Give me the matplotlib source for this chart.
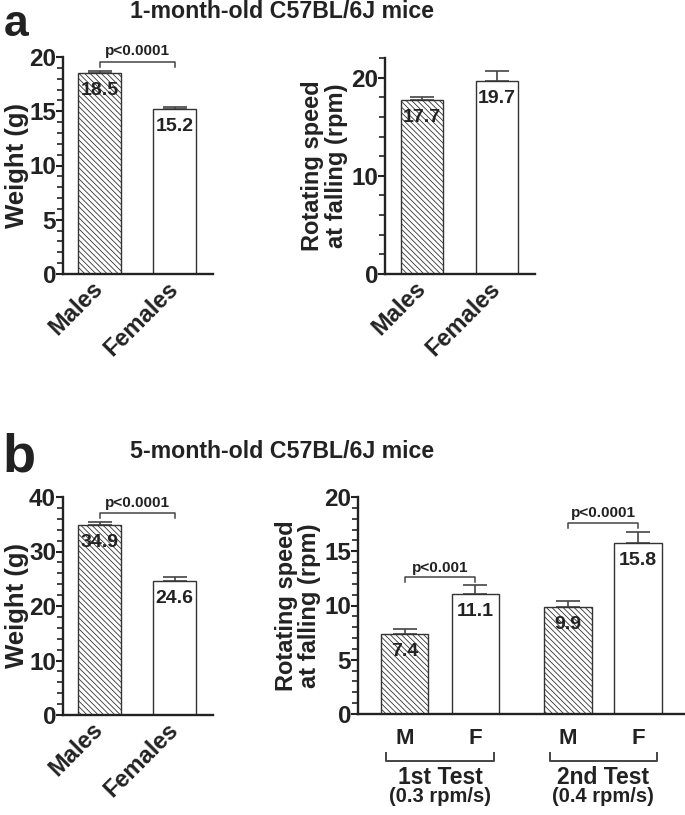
import matplotlib
matplotlib.use('agg')
import matplotlib.pyplot as plt
import numpy as np

plt.rcParams['font.family'] = ['Liberation Sans', 'DejaVu Sans']
plt.rcParams['font.weight'] = 'bold'
plt.rcParams['hatch.color'] = '#666666'
plt.rcParams['hatch.linewidth'] = 0.6

# data
sex_labels = ['Males', 'Females']
weight_1m = [18.5, 15.2]
weight_1m_err = [0.2, 0.2]
speed_1m = [17.7, 19.7]
speed_1m_err = [0.3, 1.0]

weight_5m = [34.9, 24.6]
weight_5m_err = [0.5, 0.7]
speed_5m = [7.4, 11.1, 9.9, 15.8]
speed_5m_err = [0.4, 0.8, 0.5, 1.0]
speed_5m_ticks = ['M', 'F', 'M', 'F']
test_names = ['1st Test', '2nd Test']
test_rates = ['(0.3 rpm/s)', '(0.4 rpm/s)']

W, H = 685, 815
fig = plt.figure(figsize=(W / 100, H / 100), dpi=100)
INK = '#222222'


def px_axes(x0, x1, y0, y1):
    return fig.add_axes([x0 / W, 1 - y1 / H, (x1 - x0) / W, (y1 - y0) / H])


def ftext(x, y, s, **kw):
    fig.text(x / W, 1 - y / H, s, color=INK, fontweight='bold', **kw)


def style(ax, ymax, major, minor):
    ax.set_ylim(0, ymax)
    ax.set_yticks(np.arange(0, ymax + 0.01, major))
    ax.set_yticks(np.arange(0, ymax + 0.01, minor), minor=True)
    for s in ['top', 'right']:
        ax.spines[s].set_visible(False)
    for s in ['left', 'bottom']:
        ax.spines[s].set_linewidth(1.7)
        ax.spines[s].set_color(INK)
    ax.tick_params(axis='y', which='major', length=5, width=1.5, labelsize=17.5,
                   pad=0, colors=INK)
    ax.tick_params(axis='y', which='minor', length=4, width=1.2, colors=INK)
    ax.tick_params(axis='x', length=0)
    for lab in ax.get_yticklabels():
        lab.set_fontweight('bold')


def bars(ax, pos, vals, errs, width):
    for i, (x, v, e) in enumerate(zip(pos, vals, errs)):
        hatched = (i % 2 == 0)
        ax.bar(x, v, width, color='white', edgecolor='#333333', linewidth=1.0,
               hatch='\\\\\\\\\\\\' if hatched else None, zorder=2)
        ax.errorbar(x, v, yerr=[[0], [e]], fmt='none', ecolor='#444444',
                    elinewidth=1.2, capsize=8.5, capthick=1.2, zorder=1)
        ax.annotate(f'{v:.1f}', (x, v), xytext=(0, -6.5), textcoords='offset points',
                    ha='center', va='top', fontsize=14, fontweight='bold',
                    color=INK, zorder=3)


def pbracket(ax, x0, x1, y, drop, text, gap):
    ax.plot([x0, x0, x1, x1], [y - drop, y, y, y - drop], color='#444444', lw=1.1,
            clip_on=False)
    ax.text((x0 + x1) / 2, y + gap, text, ha='center', va='bottom',
            fontsize=11, fontweight='bold', color=INK)


def sex_xticks(ax, pos):
    ax.set_xticks(pos)
    ax.set_xticklabels(sex_labels, rotation=45, ha='right', va='center',
                       rotation_mode='anchor', fontsize=17, fontweight='bold',
                       color=INK)
    ax.tick_params(axis='x', pad=8)


# panel labels and titles
ftext(4, 36, 'a', fontsize=32)
ftext(282, 12, '1-month-old C57BL/6J mice', fontsize=16.7, ha='center', va='center')
ftext(2, 472, 'b', fontsize=39)
ftext(282, 451, '5-month-old C57BL/6J mice', fontsize=16.7, ha='center', va='center')

pos2 = [0, 1]

# a, weight
ax1 = px_axes(63, 213, 57, 274)
style(ax1, 20, 5, 1)
ax1.set_xlim(-0.487, 1.513)
bars(ax1, pos2, weight_1m, weight_1m_err, 0.57)
sex_xticks(ax1, pos2)
ax1.set_ylabel('Weight (g)', fontsize=18.5, fontweight='bold', color=INK)
ax1.yaxis.set_label_coords(-0.225, 0.5)
pbracket(ax1, 0, 1, 19.55, 0.45, 'p<0.0001', 0.35)

# a, rotarod
ax2 = px_axes(385, 535, 58, 274)
style(ax2, 22, 10, 2)
ax2.set_xlim(-0.493, 1.507)
bars(ax2, pos2, speed_1m, speed_1m_err, 0.57)
sex_xticks(ax2, pos2)
ax2.set_ylabel('Rotating speed\nat falling (rpm)', fontsize=17, fontweight='bold',
               linespacing=1.0, color=INK)
ax2.yaxis.set_label_coords(-0.25, 0.5)

# b, weight
ax3 = px_axes(63, 213, 497, 715)
style(ax3, 40, 10, 2)
ax3.set_xlim(-0.487, 1.513)
bars(ax3, pos2, weight_5m, weight_5m_err, 0.57)
sex_xticks(ax3, pos2)
ax3.set_ylabel('Weight (g)', fontsize=18.5, fontweight='bold', color=INK)
ax3.yaxis.set_label_coords(-0.225, 0.5)
pbracket(ax3, 0, 1, 37.1, 0.9, 'p<0.0001', 0.6)

# b, rotarod tests
pos4 = [0, 1, 2.31, 3.30]
ax4 = px_axes(358, 684, 497, 714)
style(ax4, 20, 5, 1)
ax4.set_xlim(-0.66, 3.95)
bars(ax4, pos4, speed_5m, speed_5m_err, 0.67)
ax4.set_xticks(pos4)
ax4.set_xticklabels(speed_5m_ticks, fontsize=16, fontweight='bold', color=INK)
ax4.tick_params(axis='x', pad=10)
ax4.set_ylabel('Rotating speed\nat falling (rpm)', fontsize=17, fontweight='bold',
               linespacing=1.0, color=INK)
ax4.yaxis.set_label_coords(-0.115, 0.5)
pbracket(ax4, pos4[0], pos4[1], 12.6, 0.45, 'p<0.001', 0.25)
pbracket(ax4, pos4[2], pos4[3], 17.6, 0.45, 'p<0.0001', 0.25)

# group brackets under the M/F ticks
ypx = 217 / 20.0
for g in range(2):
    xa, xb = pos4[2 * g] - 0.26, pos4[2 * g + 1] + 0.27
    yb, yt = -(761 - 714) / ypx, -(753 - 714) / ypx
    ax4.plot([xa, xa, xb, xb], [yt, yb, yb, yt], color='#444444', lw=1.4,
             clip_on=False)
    xm = (pos4[2 * g] + pos4[2 * g + 1]) / 2
    ax4.text(xm, -(777 - 714) / ypx, test_names[g], ha='center', va='center',
             fontsize=16.5, fontweight='bold', color=INK)
    ax4.text(xm, -(796 - 714) / ypx, test_rates[g], ha='center', va='center',
             fontsize=14.5, fontweight='bold', color=INK)

fig.savefig('out.png', dpi=100)
